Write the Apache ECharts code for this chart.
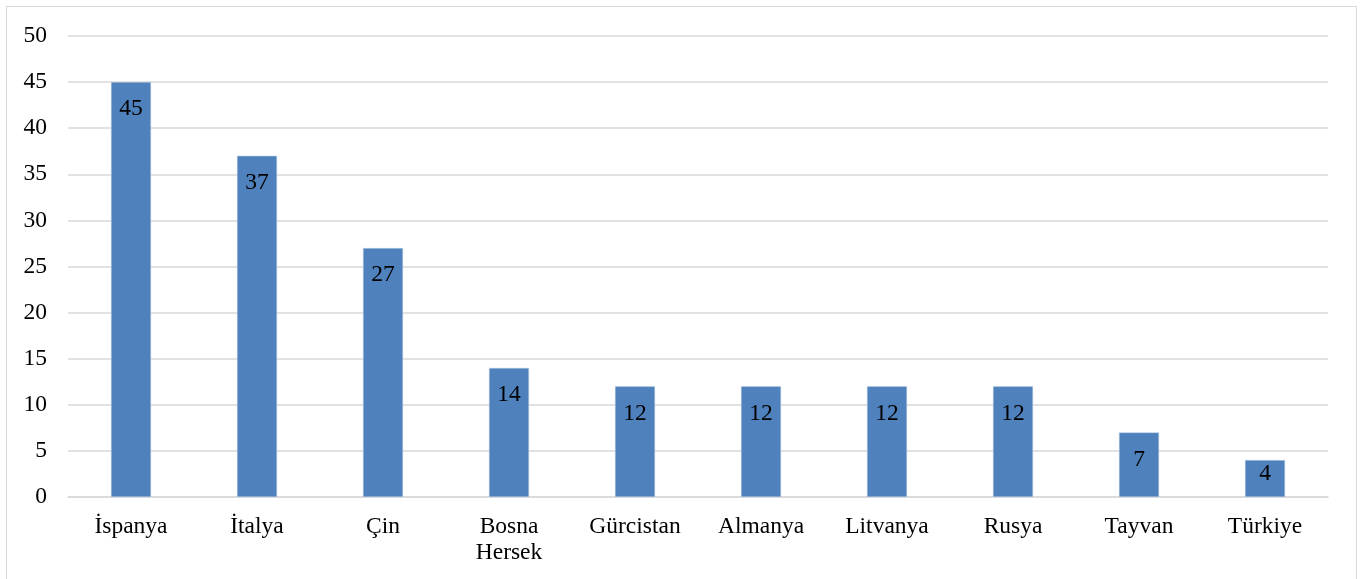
<!DOCTYPE html>
<html><head><meta charset="utf-8">
<script src="https://cdn.jsdelivr.net/npm/echarts@6/dist/echarts.min.js"></script>
<style>html,body{margin:0;padding:0;background:#fff}#c{width:1360px;height:579px}
#frame{position:absolute;left:6px;top:6px;width:1351px;height:600px;border:1px solid #d9d9d9;box-sizing:border-box;pointer-events:none}</style>
</head><body><div id="c"></div><div id="frame"></div>
<script>
const categories = ['İspanya','İtalya','Çin','Bosna\nHersek','Gürcistan','Almanya','Litvanya','Rusya','Tayvan','Türkiye'];
const values = [45,37,27,14,12,12,12,12,7,4];
const yTicks = {min:0, max:50, interval:5};
const font = '"Liberation Serif","Times New Roman",serif';
const chart = echarts.init(document.getElementById('c'));
const seriesData = values.map((v,i)=> i===values.length-1 ? {value:v,label:{distance:2}} : v);
chart.setOption({
  animation:false,
  grid:{left:68,right:32,top:36,bottom:82},
  xAxis:{type:'category',data:categories,
    axisLine:{lineStyle:{color:'#d9d9d9',width:1.5}},axisTick:{show:false},
    axisLabel:{color:'#000',fontFamily:font,fontSize:23.5,margin:17,lineHeight:26,interval:0}},
  yAxis:{type:'value',min:yTicks.min,max:yTicks.max,interval:yTicks.interval,
    axisLine:{show:false},axisTick:{show:false},
    splitLine:{lineStyle:{color:'#d9d9d9',width:1.5}},
    axisLabel:{color:'#000',fontFamily:font,fontSize:23.5,margin:21}},
  series:[{type:'bar',data:seriesData,barWidth:40,
    itemStyle:{color:'#4f81bd',borderColor:'#b9cde5',borderWidth:0.5},
    label:{show:true,position:'insideTop',distance:15,color:'#000',fontFamily:font,fontSize:23.5}}]
});
</script></body></html>
